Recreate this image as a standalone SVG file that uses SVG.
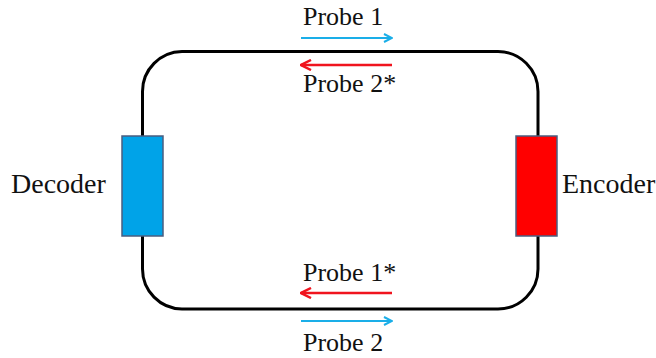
<svg xmlns="http://www.w3.org/2000/svg" width="656" height="358" viewBox="0 0 656 358">
<style>
text{font-family:"Liberation Serif","Times New Roman",serif;font-size:26px;fill:#111}
.big{font-size:28px}
.loop{fill:none;stroke:#000;stroke-width:3}
.ab{stroke:#1AAEE8;stroke-width:2}
.ar{stroke:#F0141E;stroke-width:2.5}
.box{stroke:#4A5E80;stroke-width:1.5}
</style>
<defs>
<marker id="hb" viewBox="0 0 10 10" refX="9" refY="5" markerWidth="5" markerHeight="5" orient="auto"><path d="M1,1 L9,5 L1,9" fill="none" stroke="#1AAEE8" stroke-width="2"/></marker>
<marker id="hr" viewBox="0 0 10 10" refX="9" refY="5" markerWidth="5" markerHeight="5" orient="auto"><path d="M1,1 L9,5 L1,9" fill="none" stroke="#F0141E" stroke-width="2"/></marker>
</defs>
<g id="connectors">
<path class="loop" d="M182,51.5 H498 A40,40 0 0 1 538,91.5 V269 A40,40 0 0 1 498,309 H182 A40,40 0 0 1 142.5,269 V91.5 A40,40 0 0 1 182,51.5 Z"/>
<line class="ab" x1="301" y1="38" x2="392" y2="38" marker-end="url(#hb)"/>
<line class="ar" x1="392" y1="65" x2="301" y2="65" marker-end="url(#hr)"/>
<line class="ar" x1="392" y1="293" x2="301" y2="293" marker-end="url(#hr)"/>
<line class="ab" x1="301" y1="321" x2="392" y2="321" marker-end="url(#hb)"/>
</g>
<g id="decoder">
<rect class="box" x="122" y="136" width="41" height="100" fill="#00A3E8"/>
<text class="big" x="11" y="193">Decoder</text>
</g>
<g id="encoder">
<rect class="box" x="516" y="136" width="41" height="100" fill="#FF0000"/>
<text class="big" x="562" y="193">Encoder</text>
</g>
<g id="labels">
<text x="303" y="25">Probe 1</text>
<text x="303" y="92">Probe 2*</text>
<text x="303" y="281">Probe 1*</text>
<text x="303" y="351">Probe 2</text>
</g>
</svg>
